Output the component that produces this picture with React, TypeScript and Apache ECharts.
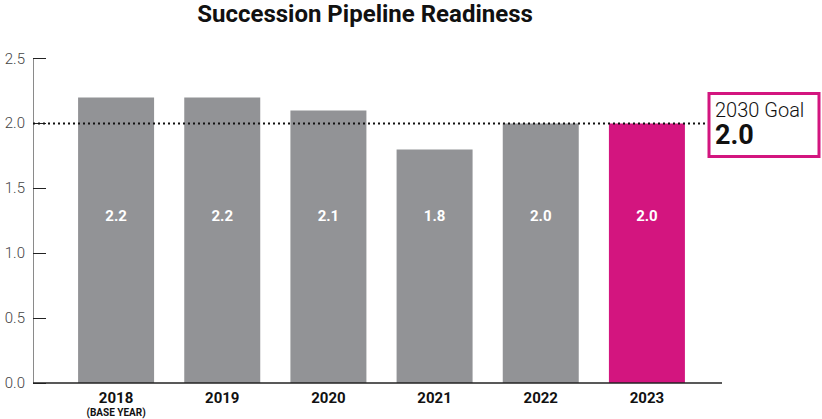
import React, { useEffect, useRef } from "react";
import * as echarts from "echarts";

const categories = ["2018", "2019", "2020", "2021", "2022", "2023"];
const subLabels = ["(BASE YEAR)", "", "", "", "", ""];
const values = [2.2, 2.2, 2.1, 1.8, 2.0, 2.0];
const highlightIndex = 5;
const goalValue = 2.0;
const goalLabel = "2030 Goal";
const titleText = "Succession Pipeline Readiness";

const GRAY = "#929396";
const PINK = "#D3157F";
const FONT = "Roboto, 'Noto Sans', sans-serif";

export default function App() {
  const ref = useRef<HTMLDivElement>(null);
  useEffect(() => {
    if (!ref.current) return;
    const chart = echarts.init(ref.current, null, { renderer: "svg" });
    chart.setOption({
      animation: false,
      textStyle: { fontFamily: FONT },
      grid: { left: 63, right: 122, top: 58.6, bottom: 36 },
      xAxis: {
        type: "category",
        data: categories,
        axisLine: { show: false },
        axisTick: { show: false },
        axisLabel: {
          interval: 0,
          margin: 6,
          formatter: (v: string, i: number) =>
            subLabels[i] ? `{y|${v}}\n{s|${subLabels[i]}}` : `{y|${v}}`,
          rich: {
            y: { fontSize: 15, fontWeight: "bold", color: "#111", lineHeight: 17, fontFamily: FONT },
            s: { fontSize: 10, fontWeight: "bold", color: "#111", lineHeight: 12, fontFamily: FONT },
          },
        },
      },
      yAxis: {
        type: "value",
        min: 0,
        max: 2.5,
        interval: 0.5,
        offset: 30,
        splitLine: { show: false },
        axisLine: { show: true, lineStyle: { color: "#8a8a8a", width: 1 } },
        axisTick: { show: true, inside: true, length: 13, lineStyle: { color: "#222" } },
        axisLabel: {
          margin: 8,
          fontSize: 15,
          color: "#444",
          fontWeight: 300,
          formatter: (v: number) => v.toFixed(1),
        },
      },
      series: [
        {
          type: "bar",
          barWidth: 76,
          data: values.map((v, i) => ({
            value: v,
            itemStyle: { color: i === highlightIndex ? PINK : GRAY },
          })),
          label: {
            show: true,
            position: "insideBottom",
            distance: 160,
            color: "#fff",
            fontSize: 15,
            fontWeight: "bold",
            formatter: (p: any) => Number(p.value).toFixed(1),
          },
        },
      ],
    });

    const yGoal = chart.convertToPixel({ yAxisIndex: 0 }, goalValue) as number;
    const yZero = chart.convertToPixel({ yAxisIndex: 0 }, 0) as number;
    chart.setOption({
      graphic: [
        {
          type: "text",
          x: 365,
          y: 14,
          style: {
            text: titleText,
            font: `bold 24px ${FONT}`,
            fill: "#111",
            align: "center",
            verticalAlign: "middle",
          },
        },
        {
          type: "line",
          shape: { x1: 33, y1: yZero, x2: 722, y2: yZero },
          style: { stroke: "#222", lineWidth: 1.5 },
          z: 10,
        },
        {
          type: "line",
          shape: { x1: 33, y1: yGoal, x2: 706, y2: yGoal },
          style: { stroke: "#111", lineWidth: 2, lineDash: [2, 3] },
          z: 10,
        },
        {
          type: "rect",
          shape: { x: 709, y: yGoal - 30, width: 110, height: 63 },
          style: { fill: "#fff", stroke: PINK, lineWidth: 3 },
          z: 11,
        },
        {
          type: "text",
          x: 715,
          y: yGoal - 13,
          style: {
            text: goalLabel,
            font: `300 20px ${FONT}`,
            fill: "#111",
            verticalAlign: "middle",
          },
          z: 12,
        },
        {
          type: "text",
          x: 715,
          y: yGoal + 12,
          style: {
            text: goalValue.toFixed(1),
            font: `bold 27px ${FONT}`,
            fill: "#111",
            verticalAlign: "middle",
          },
          z: 12,
        },
      ],
    });
    return () => chart.dispose();
  }, []);
  return <div ref={ref} style={{ width: 822, height: 419, position: "absolute", left: 0, top: 0 }} />;
}
